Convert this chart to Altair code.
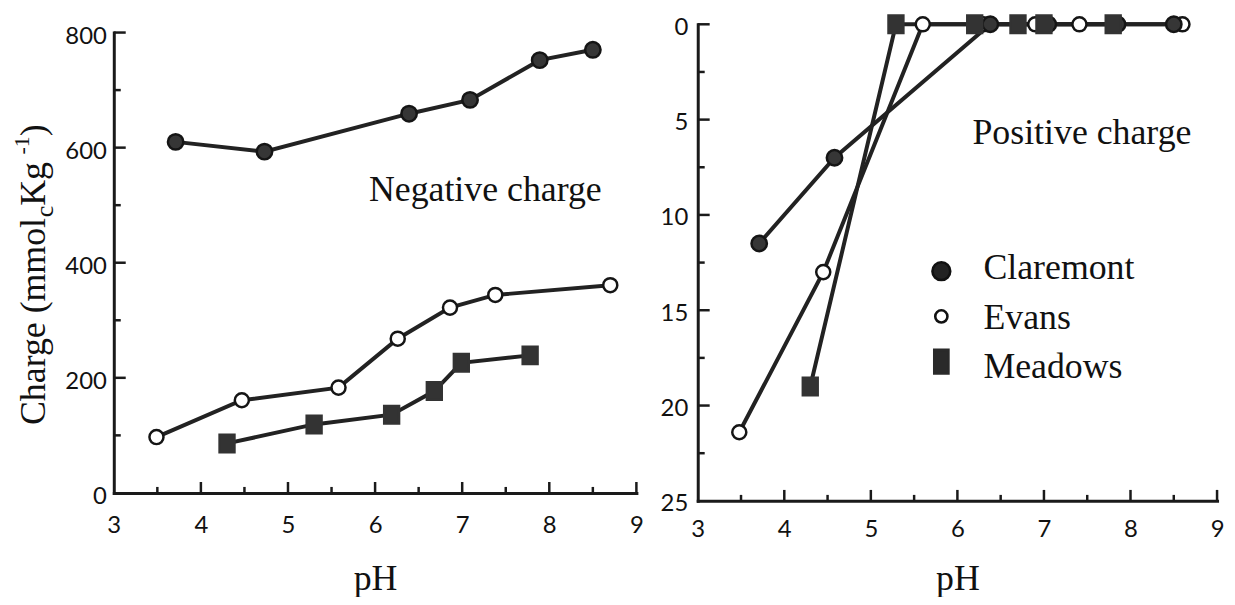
import altair as alt
import pandas as pd

sites = ["Claremont", "Evans", "Meadows"]

# ---- Negative charge (left panel), mmolc/kg ----
neg_claremont_ph = [3.71, 4.73, 6.39, 7.09, 7.89, 8.50]
neg_claremont = [610, 593, 659, 683, 752, 770]
neg_evans_ph = [3.49, 4.47, 5.58, 6.26, 6.86, 7.38, 8.70]
neg_evans = [97, 161, 183, 268, 322, 344, 361]
neg_meadows_ph = [4.30, 5.30, 6.19, 6.68, 6.99, 7.78]
neg_meadows = [86, 119, 136, 177, 226, 239]

# ---- Positive charge (right panel), mmolc/kg ----
pos_claremont_ph = [3.71, 4.58, 6.38, 7.05, 7.85, 8.50]
pos_claremont = [11.5, 7.0, 0, 0, 0, 0]
pos_evans_ph = [3.48, 4.45, 5.60, 6.30, 6.90, 7.41, 8.60]
pos_evans = [21.4, 13.0, 0, 0, 0, 0, 0]
pos_meadows_ph = [4.30, 5.29, 6.20, 6.70, 7.00, 7.80]
pos_meadows = [19.0, 0, 0, 0, 0, 0]

# ---- axis ticks ----
ph_labels = [3, 4, 5, 6, 7, 8, 9]
ph_major = [4, 5, 6, 7, 8, 9]
ph_minor = [3.5, 4.5, 5.5, 6.5, 7.5, 8.5]
neg_labels = [0, 200, 400, 600, 800]
neg_major = [200, 400, 600, 800]
neg_minor = [100, 300, 500, 700]
pos_labels = [0, 5, 10, 15, 20, 25]
pos_major = [0, 5, 10, 15, 20]
pos_minor = [2.5, 7.5, 12.5, 17.5, 22.5]


def frame(phs, vals, names):
    rows = []
    for ph, val, name in zip(phs, vals, names):
        for p, v in zip(ph, val):
            rows.append({"site": name, "pH": p, "charge": v})
    return pd.DataFrame(rows)


neg_df = frame([neg_evans_ph, neg_claremont_ph, neg_meadows_ph],
               [neg_evans, neg_claremont, neg_meadows],
               ["Evans", "Claremont", "Meadows"])
pos_df = frame([pos_evans_ph, pos_claremont_ph, pos_meadows_ph],
               [pos_evans, pos_claremont, pos_meadows],
               ["Evans", "Claremont", "Meadows"])
legend_df = pd.DataFrame({"site": sites})

SERIF = "Liberation Serif"
SANS = "Lato"
AX = "#1a1a1a"
TXT = "#111111"
LINE = "#222222"

# layout (view coordinates)
W = 1109.6
H = 471.3
L_X = [0, 525.6]
R_X = [587.3, 1109.6]
L_Y = [471.3, 8.3]
R_Y = [0, 479.3]
R_BOTTOM = 479.3


def x_axis(pad, title_y, offset=0):
    return alt.Axis(values=ph_labels, format="d", title="pH", orient="bottom",
                    offset=offset, domain=True, domainColor=AX, domainWidth=3,
                    domainCap="square", ticks=False, tickSize=0, grid=False,
                    labelFont=SANS, labelFontSize=24, labelColor=TXT,
                    labelPadding=pad, labelFlush=False, labelOverlap=False,
                    titleFont=SERIF, titleFontSize=36, titleFontWeight="normal",
                    titleColor=TXT, titleBaseline="alphabetic", titleY=title_y)


def y_axis(values, pad, loff, offset=0):
    return alt.Axis(values=values, format="d", title=None, orient="left",
                    offset=offset, domain=True, domainColor=AX, domainWidth=3,
                    domainCap="square", ticks=False, tickSize=0, grid=False,
                    labelFont=SANS, labelFontSize=24, labelColor=TXT,
                    labelPadding=pad, labelOffset=loff, labelFlush=False,
                    labelOverlap=False)


lx = alt.X("pH:Q", scale=alt.Scale(domain=[3, 9], range=L_X, nice=False, zero=False),
           axis=x_axis(21, 97))
ly = alt.Y("charge:Q", scale=alt.Scale(domain=[0, 800], range=L_Y, nice=False),
           axis=y_axis(neg_labels, 7.5, 4))
rx = alt.X("pH:Q", scale=alt.Scale(domain=[3, 9], range=R_X, nice=False, zero=False),
           axis=x_axis(17, 89, offset=8))
ry = alt.Y("charge:Q", scale=alt.Scale(domain=[0, 25], range=R_Y, nice=False),
           axis=y_axis(pos_labels, 10, 3, offset=-R_X[0]))

square_path = "M-0.85,-1H0.85V1H-0.85Z"
shape = alt.Shape("site:N", scale=alt.Scale(domain=sites, range=["circle", "circle", square_path]),
                  legend=None)
fill = alt.Fill("site:N", scale=alt.Scale(domain=sites, range=["#363636", "#ffffff", "#333333"]),
                legend=None)
stroke = alt.Stroke("site:N", scale=alt.Scale(domain=sites, range=["#151515", "#151515", "#333333"]),
                    legend=None)
# marker area per site, drawn Evans first (underneath)
marker_size = {"Evans": 200, "Claremont": 240, "Meadows": 310}


def panel(df, x, y, xmaj, xmin, ymaj, ymin, bottom, left):
    line = alt.Chart(df).mark_line(color=LINE, strokeWidth=4).encode(
        x=x, y=y, detail="site:N")
    pts = [
        alt.Chart(df).transform_filter(alt.datum.site == s).mark_point(
            opacity=1, strokeWidth=2.5, size=sz
        ).encode(x=x, y=y, shape=shape, fill=fill, stroke=stroke)
        for s, sz in marker_size.items()
    ]
    xt1 = alt.Chart(pd.DataFrame({"pH": xmaj})).mark_rule(color=AX, strokeWidth=2.5).encode(
        x=x, y=alt.value(bottom), y2=alt.value(bottom - 11))
    xt2 = alt.Chart(pd.DataFrame({"pH": xmin})).mark_rule(color=AX, strokeWidth=2.5).encode(
        x=x, y=alt.value(bottom), y2=alt.value(bottom - 6))
    yt1 = alt.Chart(pd.DataFrame({"charge": ymaj})).mark_rule(color=AX, strokeWidth=2.5).encode(
        y=y, x=alt.value(left), x2=alt.value(left + 12))
    yt2 = alt.Chart(pd.DataFrame({"charge": ymin})).mark_rule(color=AX, strokeWidth=2.5).encode(
        y=y, x=alt.value(left), x2=alt.value(left + 7))
    return alt.layer(xt1, xt2, yt1, yt2, line, *pts)


left = panel(neg_df, lx, ly, ph_major, ph_minor, neg_major, neg_minor, H, 0)
right = panel(pos_df, rx, ry, ph_major, ph_minor, pos_major, pos_minor, R_BOTTOM, R_X[0])

# ---- legend (drawn in the right panel) ----
legend_rect = "M-0.6,-1H0.6V1H-0.6Z"
leg_y = alt.Y("site:N", scale=alt.Scale(type="point", domain=sites, range=[248.3, 339.3], padding=0),
              axis=None)
leg_shape = alt.Shape("site:N", scale=alt.Scale(domain=sites, range=["circle", "circle", legend_rect]),
                      legend=None)
leg_fill = alt.Fill("site:N", scale=alt.Scale(domain=sites, range=["#222222", "#ffffff", "#2a2a2a"]),
                    legend=None)
leg_stroke = alt.Stroke("site:N", scale=alt.Scale(domain=sites, range=["#111111", "#111111", "#2a2a2a"]),
                        legend=None)
legend_size = {"Claremont": 320, "Evans": 150, "Meadows": 560}
leg_symbols = [
    alt.Chart(legend_df).transform_filter(alt.datum.site == s).mark_point(
        opacity=1, strokeWidth=2.6, size=sz
    ).encode(x=alt.value(832.3), y=leg_y, shape=leg_shape, fill=leg_fill, stroke=leg_stroke)
    for s, sz in legend_size.items()
]
leg_symbols = alt.layer(*leg_symbols)
leg_labels = alt.Chart(legend_df).mark_text(
    font=SERIF, fontSize=36, align="left", baseline="alphabetic", color=TXT
).encode(
    x=alt.value(874.6),
    y=alt.Y("site:N", scale=alt.Scale(type="point", domain=sites, range=[256.6, 355.6], padding=0),
            axis=None),
    text="site:N",
)


def text(t, x, y, size, angle=None):
    kw = dict(font=SERIF, fontSize=size, align="left", baseline="alphabetic", color=TXT)
    if angle is not None:
        kw["angle"] = angle
    return alt.Chart(pd.DataFrame({"t": [t]})).mark_text(**kw).encode(
        x=alt.value(x), y=alt.value(y), text="t:N")


TX = -69.4
title_parts = [
    text("Charge (mmol", TX, 403, 36, 270),
    text("c", TX + 8, 194, 26, 270),
    text(" Kg", TX, 182.5, 36, 270),
    text("-1", TX - 16, 131, 22, 270),
    text(")", TX, 112.5, 36, 270),
]
annotations = [
    text("Negative charge", 256.6, 177.3, 36),
    text("Positive charge", 863.6, 120.3, 36),
]

chart = alt.layer(left, right, leg_symbols, leg_labels, *title_parts, *annotations).resolve_scale(
    x="independent", y="independent", shape="independent", fill="independent",
    stroke="independent"
).properties(
    width=W, height=H,
    autosize=alt.AutoSizeParams(type="none"),
    padding={"left": 106.4, "top": 14.7, "right": 10, "bottom": 103},
    background="white",
).configure_view(stroke=None)

chart.save("out.html", embed_options={"renderer": "svg", "actions": False})
